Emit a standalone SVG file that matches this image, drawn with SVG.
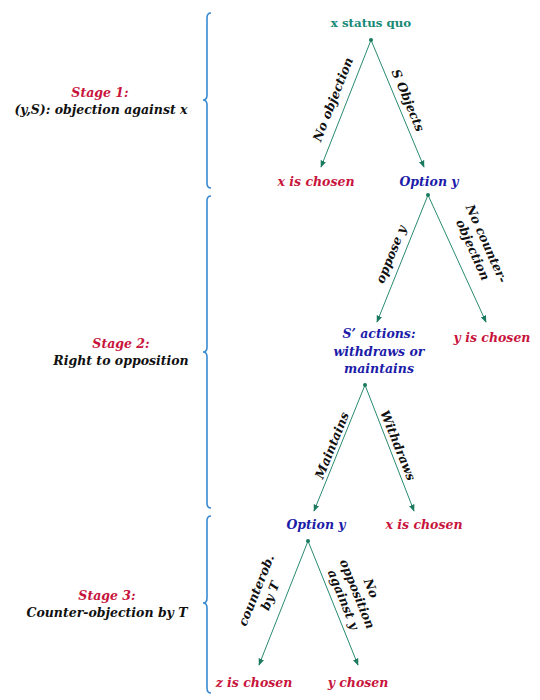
<svg xmlns="http://www.w3.org/2000/svg" width="540" height="700" viewBox="0 0 540 700">
<style>
text{font-family:"DejaVu Serif","Liberation Serif",serif;font-weight:bold;font-style:italic;font-size:12.5px;text-anchor:middle}
.red{fill:#c8143c}
.blue{fill:#1c1ca8}
.blk{fill:#111}
.teal{fill:#1a8a78;font-style:normal;font-size:11.8px}
.edge{stroke:#2a8a70;stroke-width:1;fill:none;marker-end:url(#ah)}
.brace{stroke:#3a8ad2;stroke-width:1.6;fill:none}
.dot{fill:#1a7a60}
</style>
<defs>
<marker id="ah" viewBox="0 0 10 10" refX="9" refY="5" markerWidth="7" markerHeight="7" orient="auto" markerUnits="userSpaceOnUse">
<path d="M0,1 L10,5 L0,9 z" fill="#1a7a60"/>
</marker>
</defs>
<rect width="540" height="700" fill="#fff"/>
<g id="braces">
<path class="brace" d="M211,13 Q207,13 207,18 L207,95 Q207,100 203,100 Q207,100 207,105 L207,183 Q207,188 211,188"/>
<path class="brace" d="M211,196 Q207,196 207,201 L207,347 Q207,352 203,352 Q207,352 207,357 L207,503 Q207,508 211,508"/>
<path class="brace" d="M211,516 Q207,516 207,521 L207,598 Q207,603 203,603 Q207,603 207,608 L207,688 Q207,693 211,693"/>
</g>
<g id="stage1"><text class="red" x="100" y="97">Stage 1:</text><text class="blk" x="101" y="114">(y,S): objection against x</text></g>
<g id="stage2"><text class="red" x="121" y="348">Stage 2:</text><text class="blk" x="121" y="365">Right to opposition</text></g>
<g id="stage3"><text class="red" x="107" y="600">Stage 3:</text><text class="blk" x="107" y="617">Counter-objection by T</text></g>
<g id="connectors">
<path class="edge" d="M371,40 L321,167"/>
<path class="edge" d="M371,40 L424,167"/>
<path class="edge" d="M428,195 L377,322"/>
<path class="edge" d="M428,195 L486,322"/>
<path class="edge" d="M365,385 L314,511"/>
<path class="edge" d="M365,385 L414,511"/>
<path class="edge" d="M308,541 L259,665"/>
<path class="edge" d="M308,541 L358,665"/>
<circle class="dot" cx="371" cy="40" r="2"/>
<circle class="dot" cx="428" cy="195" r="2"/>
<circle class="dot" cx="365" cy="385" r="2"/>
<circle class="dot" cx="308" cy="541" r="2"/>
<text class="blk" transform="translate(337,101) rotate(-68.5)">No objection</text>
<text class="blk" transform="translate(404,102) rotate(67.4)">S Objects</text>
<text class="blk" transform="translate(395,256) rotate(-68)">oppose y</text>
<text class="blk" transform="translate(479,247) rotate(66)"><tspan x="0" y="-4">No counter-</tspan><tspan x="0" y="11">objection</tspan></text>
<text class="blk" transform="translate(336,447) rotate(-68)">Maintains</text>
<text class="blk" transform="translate(394,447) rotate(68)">Withdraws</text>
<text class="blk" transform="translate(263,593) rotate(-68)"><tspan x="0" y="-3">counterob.</tspan><tspan x="0" y="12">by T</tspan></text>
<text class="blk" transform="translate(357,594) rotate(68)"><tspan x="0" y="-11">No</tspan><tspan x="0" y="4">opposition</tspan><tspan x="0" y="19">against y</tspan></text>
</g>
<g id="n-root"><text class="teal" x="371" y="27">x status quo</text></g>
<g id="n-x1"><text class="red" x="316" y="186">x is chosen</text></g>
<g id="n-opt1"><text class="blue" x="429" y="186">Option y</text></g>
<g id="n-sact"><text class="blue" x="379" y="338">S’ actions:</text><text class="blue" x="379" y="356">withdraws or</text><text class="blue" x="379" y="373">maintains</text></g>
<g id="n-y1"><text class="red" x="492" y="342">y is chosen</text></g>
<g id="n-opt2"><text class="blue" x="316" y="529">Option y</text></g>
<g id="n-x2"><text class="red" x="424" y="529">x is chosen</text></g>
<g id="n-z"><text class="red" x="254" y="687">z is chosen</text></g>
<g id="n-y2"><text class="red" x="358" y="687">y chosen</text></g>
</svg>
